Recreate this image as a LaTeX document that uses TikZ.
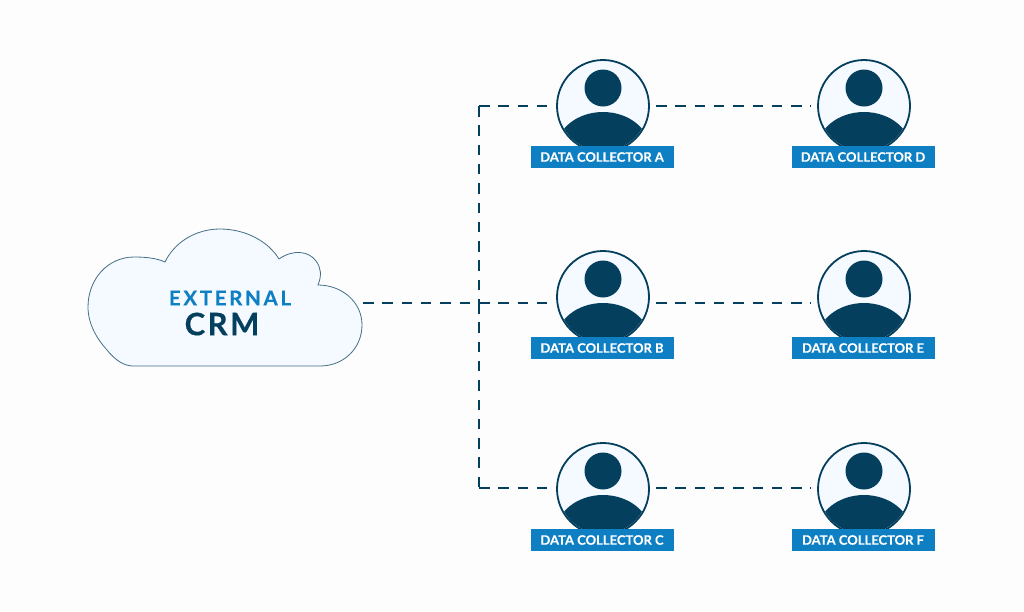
\documentclass[tikz,border=0pt]{standalone}
\usepackage{fontspec}
\setmainfont{Lato}
\newfontfamily\spaced[LetterSpace=8,FakeBold=0.4]{Lato}
\newfontfamily\wider[LetterSpace=13,FakeBold=0.4]{Lato}
\newfontfamily\tagfont[FakeBold=0.25]{Lato}
\definecolor{navy}{HTML}{053F5E}
\definecolor{blueb}{HTML}{0D7FC2}
\definecolor{pale}{HTML}{F4FAFF}
\definecolor{bg}{HTML}{FDFDFD}
\tikzset{
  person/.style={circle,draw=navy,line width=1.8pt,fill=pale,minimum size=92pt,inner sep=0pt,outer sep=0pt},
  tag/.style={fill=blueb,text=white,minimum width=143pt,minimum height=22pt,inner sep=0pt,outer sep=0pt,font=\fontsize{13}{15}\selectfont\tagfont\bfseries},
  link/.style={draw=navy,line width=2.6pt,dash pattern=on 10.5pt off 8.8pt},
  gapped/.style={shorten <=7pt,shorten >=7pt}
}
\newcommand{\personicon}[6]{%
  \node[person] (#1) at (#2,#3) {};
  \begin{scope}
    \clip (#2,#3) circle (45pt);
    \fill[navy] (#2,#3+44) ellipse (47pt and 38pt);
  \end{scope}
  \fill[navy] (#2,#3-18) circle (18.5pt);
  \node[tag] (#4) at (#2-1,#3+51) {#5};
}
\begin{document}
\begin{tikzpicture}[x=1pt,y=-1pt]
\useasboundingbox[fill=bg] (0,0) rectangle (1024,611);
% cloud
\draw[draw=navy!75,line width=0.8pt,fill=pale]
  (133,366) -- (320,366)
  .. controls (344,366) and (362,348) .. (362,325)
  .. controls (362,302) and (342,285) .. (318,285)
  .. controls (322,275) and (321,268) .. (316,261)
  .. controls (309,251) and (293,249) .. (279,259)
  .. controls (268,241) and (245,229) .. (220,229)
  .. controls (195,229) and (174,243) .. (165,262)
  .. controls (156,258) and (146,257) .. (134,257)
  .. controls (108,257) and (88,279) .. (88,307)
  .. controls (88,324) and (97,339) .. (107,350)
  .. controls (115,360) and (124,366) .. (133,366) -- cycle;
\node[font=\fontsize{20.5}{22}\selectfont\bfseries\wider,text=blueb,inner sep=0pt] (ext) at (230,298) {EXTERNAL};
\node[font=\fontsize{31}{33}\selectfont\bfseries\spaced,text=navy,inner sep=0pt] (crm) at (222,324) {CRM};
% people
\personicon{pa}{603}{106}{ta}{DATA COLLECTOR A}{}
\personicon{pb}{603}{297}{tb}{DATA COLLECTOR B}{}
\personicon{pc}{603}{489}{tc}{DATA COLLECTOR C}{}
\personicon{pd}{864}{106}{td}{DATA COLLECTOR D}{}
\personicon{pe}{864}{297}{te}{DATA COLLECTOR E}{}
\personicon{pf}{864}{489}{tf}{DATA COLLECTOR F}{}
% connectors
\coordinate (crmr) at (363,303);
\coordinate (jm) at (479,303);
\coordinate (ja) at (479,106);
\coordinate (jc) at (479,488);
\draw[link] (crmr) -- (jm);
\draw[link,shorten >=7pt] (jm) -- (jm -| pb.west);
\draw[link,shorten >=7pt] (ja) -- (ja -| pa.west);
\draw[link,shorten >=7pt] (jc) -- (jc -| pc.west);
\draw[link] (ja) -- (jm);
\draw[link] (jm) -- (jc);
\draw[link,gapped] (pa.east) -- (pd.west);
\draw[link,gapped] (jm -| pb.east) -- (jm -| pe.west);
\draw[link,gapped] (jc -| pc.east) -- (jc -| pf.west);
\end{tikzpicture}
\end{document}
